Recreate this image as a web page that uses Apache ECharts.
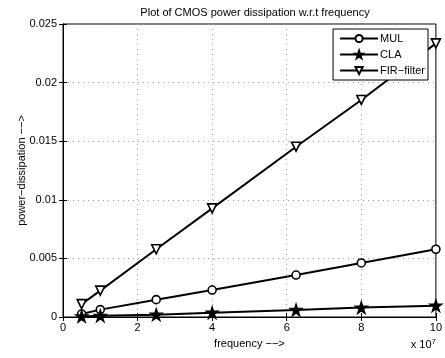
<!DOCTYPE html>
<html>
<head>
<meta charset="utf-8">
<script src="https://cdn.jsdelivr.net/npm/echarts@6/dist/echarts.min.js"></script>
<style>
html, body { margin: 0; padding: 0; background: #fff; }
#chart { width: 445px; height: 358px; }
</style>
</head>
<body>
<div id="chart"></div>
<script>
// ============================
// Datos (frecuencia en unidades de 1e7)
// ============================
var freq = [0.5, 1, 2.5, 4, 6.25, 8, 10];
var mulData = [0.00026, 0.00063, 0.00148, 0.0023, 0.00358, 0.00461, 0.00578];
var claData = [0.00005, 0.0001, 0.0002, 0.00037, 0.0006, 0.0008, 0.00097];
var firData = [0.0011, 0.00225, 0.00578, 0.00927, 0.01453, 0.01852, 0.02335];
var xTicks = [0, 2, 4, 6, 8, 10];
var yTicks = [0, 0.005, 0.01, 0.015, 0.02, 0.025];

var starPath = "path://M50 0 L61.23 34.55 L97.55 34.55 L68.16 55.9 L79.39 90.45 L50 69.1 L20.61 90.45 L31.84 55.9 L2.45 34.55 L38.77 34.55 Z";
var triDownPath = "path://M0 0 L100 0 L50 86 Z";
var font = "Liberation Sans, Arial, Helvetica, sans-serif";

function pares(ys) {
    return freq.map((x, i) => [x, ys[i]]);
}

function serie(name, ys, symbol, size, fill) {
    return {
        name: name,
        type: "line",
        data: pares(ys),
        symbol: symbol,
        symbolSize: size,
        showAllSymbol: true,
        lineStyle: { color: "#000", width: 2 },
        itemStyle: { color: fill, borderColor: "#000", borderWidth: 1.6 },
        emphasis: { disabled: true },
        animation: false
    };
}

var axisComun = {
    axisLine: { show: true, lineStyle: { color: "#000", width: 1 } },
    axisTick: { show: true, inside: true, length: 4, lineStyle: { color: "#000" } }
};
var gridPunteado = { show: true, lineStyle: { color: "#999", type: [1, 4], width: 1 } };

var chart = echarts.init(document.getElementById("chart"));
chart.setOption({
    animation: false,
    textStyle: { fontFamily: font },
    title: {
        text: "Plot of CMOS power dissipation w.r.t frequency",
        left: 250,
        textAlign: "center",
        top: 2,
        textStyle: { fontSize: 11, fontWeight: "normal", color: "#000", fontFamily: font }
    },
    grid: { left: 63, right: 9, top: 24, bottom: 41, show: true, borderColor: "#000", borderWidth: 1 },
    legend: {
        orient: "vertical",
        right: 17,
        top: 29,
        backgroundColor: "#fff",
        borderColor: "#000",
        borderWidth: 1,
        padding: [4, 3, 4, 6],
        itemWidth: 38,
        itemHeight: 9,
        itemGap: 5,
        textStyle: { fontSize: 11, color: "#000", fontFamily: font, padding: [0, 0, 0, -3] },
        data: ["MUL", "CLA", "FIR\u2212filter"]
    },
    xAxis: [
        Object.assign({
            type: "value", min: 0, max: 10, interval: 2,
            name: "frequency \u2212\u2212>",
            nameLocation: "middle",
            nameGap: 21,
            nameTextStyle: { fontSize: 11, color: "#000", fontFamily: font },
            axisLabel: { fontSize: 11, color: "#000", margin: 5, fontFamily: font },
            splitLine: gridPunteado
        }, axisComun),
        Object.assign({
            type: "value", min: 0, max: 10, interval: 2, position: "top",
            axisLabel: { show: false }, splitLine: { show: false }
        }, axisComun)
    ],
    yAxis: [
        Object.assign({
            type: "value", min: 0, max: 0.025, interval: 0.005,
            name: "power\u2212dissipation \u2212\u2212>",
            nameLocation: "middle",
            nameGap: 36,
            nameMoveOverlap: false,
            nameTextStyle: { fontSize: 11, color: "#000", fontFamily: font },
            axisLabel: {
                fontSize: 11, color: "#000", margin: 6, fontFamily: font,
                formatter: v => String(+v.toFixed(3))
            },
            splitLine: gridPunteado
        }, axisComun),
        Object.assign({
            type: "value", min: 0, max: 0.025, interval: 0.005, position: "right",
            axisLabel: { show: false }, splitLine: { show: false }
        }, axisComun)
    ],
    graphic: [
        {
            type: "text",
            right: 9,
            top: 338,
            style: {
                text: "x 10{s|7}",
                fill: "#000",
                font: "11px " + font,
                rich: { s: { fontSize: 8, verticalAlign: "top", padding: [0, 0, 6, 0], fontFamily: font } }
            }
        }
    ],
    series: [
        serie("MUL", mulData, "circle", 8, "#fff"),
        serie("CLA", claData, starPath, 11, "#000"),
        serie("FIR\u2212filter", firData, triDownPath, 9, "#fff")
    ]
});
</script>
</body>
</html>
